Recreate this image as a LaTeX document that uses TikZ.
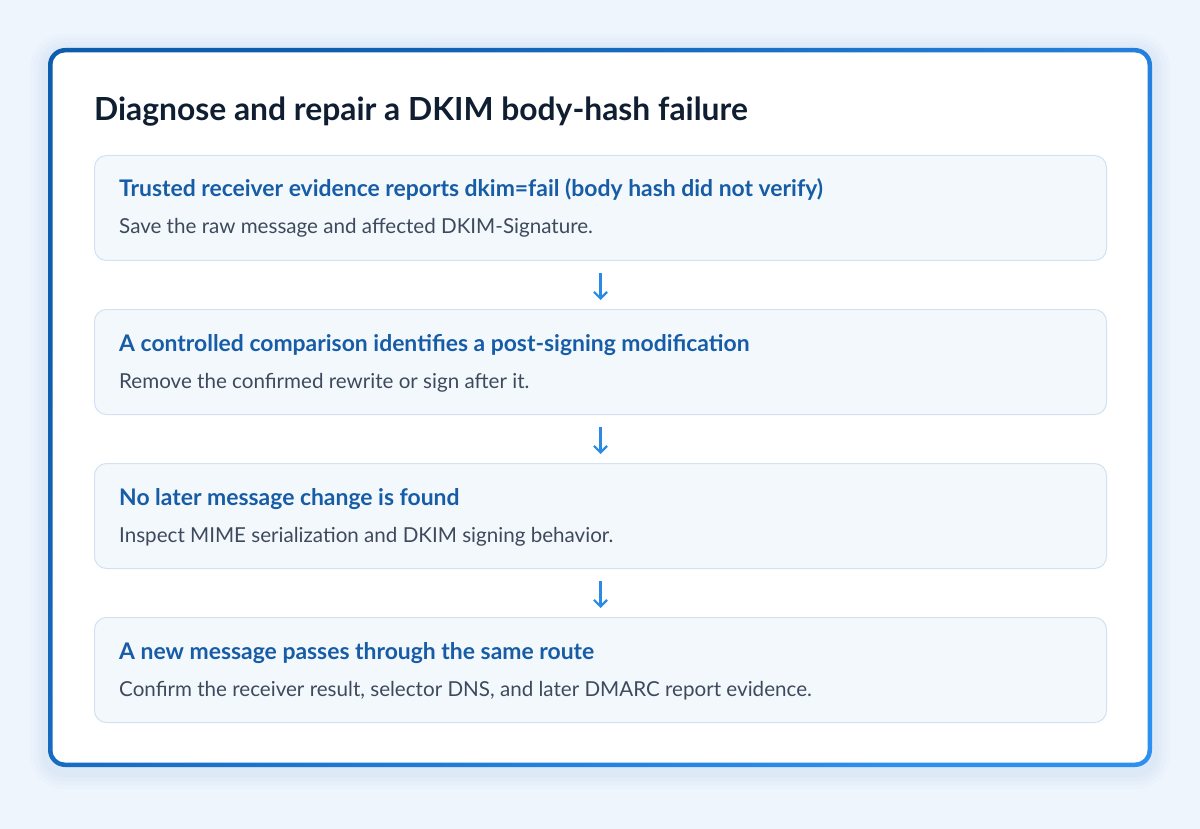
\documentclass[tikz,border=0pt]{standalone}
\usepackage{fontspec}
\setmainfont{Lato}
\usetikzlibrary{positioning,calc,arrows.meta}

\definecolor{pageBg}{RGB}{238,245,252}
\definecolor{glowInk}{RGB}{120,170,230}
\definecolor{frameDark}{RGB}{14,92,172}
\definecolor{frameLight}{RGB}{45,143,240}
\definecolor{titleInk}{RGB}{16,30,50}
\definecolor{headInk}{RGB}{22,92,166}
\definecolor{bodyInk}{RGB}{62,74,92}
\definecolor{stepFill}{RGB}{243,248,253}
\definecolor{stepLine}{RGB}{210,226,243}
\definecolor{arrowInk}{RGB}{43,138,230}

\tikzset{
  stepbox/.style={draw=stepLine, fill=stepFill, line width=1pt, rounded corners=12pt,
    minimum width=1012pt, minimum height=105pt, inner sep=0pt, anchor=north west},
  headtext/.style={anchor=base west, inner sep=0pt, text=headInk,
    font=\fontsize{22.9}{26}\selectfont\bfseries},
  bodytext/.style={anchor=base west, inner sep=0pt, text=bodyInk,
    font=\fontsize{20.6}{24}\selectfont},
  flow/.style={draw=arrowInk, line width=2.2pt, -{Straight Barb[length=6.5pt,width=13pt]},
    shorten <=12pt, shorten >=9pt},
}

\begin{document}
\begin{tikzpicture}[x=1pt,y=-1pt]
        % Page background
        \fill[pageBg] (0,0) rectangle (1200,829);
        \useasboundingbox (0,0) rectangle (1200,829);

        % Soft glow round the card
        \foreach \g in {18,14,10,6}{
            \fill[glowInk,opacity=0.03,rounded corners=16pt+\g pt]
            (48-\g,52-\g) rectangle (1152+\g,771+\g);
        }

        % Card with a shaded border
        \shade[rounded corners=17pt,top color=frameDark,bottom color=frameLight,
            shading angle=50] (48,48) rectangle (1152,767);
        \fill[white,rounded corners=12.5pt] (52.5,52.5) rectangle (1147.5,762.5);

        % Title
        \node[anchor=base west,inner sep=0pt,text=titleInk,
            font=\fontsize{31.8}{36}\selectfont\bfseries] (title) at (94,121)
            {Diagnose and repair a DKIM body-hash failure};

        % Steps
        \foreach \i/\top/\head/\body in {
            1/155/{Trusted receiver evidence reports dkim=fail (body hash did not verify)}/{Save the raw message and affected DKIM-Signature.},
            2/309/{A controlled comparison identifies a post-signing modification}/{Remove the confirmed rewrite or sign after it.},
            3/463/{No later message change is found}/{Inspect MIME serialization and DKIM signing behavior.},
            4/617/{A new message passes through the same route}/{Confirm the receiver result, selector DNS, and later DMARC report evidence.}}{
            \node[stepbox] (step\i) at (94,\top) {};
            \node[headtext] (head\i) at ($(step\i.north west)+(25,42)$) {\head};
            \node[bodytext] (body\i) at ($(step\i.north west)+(25,79)$) {\body};
        }

        % Arrows between steps
        \foreach \a/\b in {1/2,2/3,3/4}{
            \draw[flow] (step\a.south) -- (step\b.north);
        }
\end{tikzpicture}
\end{document}
